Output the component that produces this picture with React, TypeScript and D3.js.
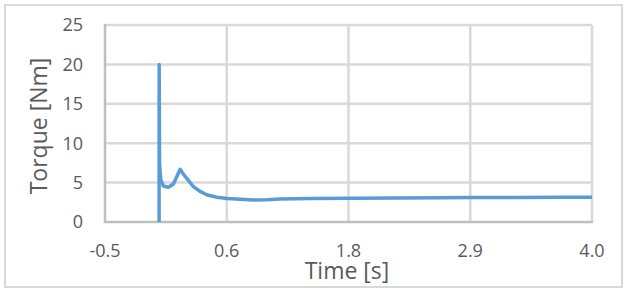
import React from 'react'
import * as d3 from 'd3'

// torque trace
const timeS = [
  0, 0.0005, 0.004, 0.015, 0.04, 0.086, 0.132, 0.163, 0.194, 0.225, 0.256, 0.317,
  0.379, 0.44, 0.533, 0.631, 0.749, 0.872, 0.995, 1.118, 1.4, 1.8, 2.2, 2.6, 2.9, 3.3, 3.7, 4.0,
]
const torqueNm = [
  0, 20, 7.45, 5.33, 4.57, 4.4, 4.82, 5.75, 6.69, 6.05, 5.54, 4.5,
  3.88, 3.45, 3.14, 2.97, 2.88, 2.8, 2.83, 2.92, 2.98, 3.02, 3.05, 3.08, 3.1, 3.12, 3.14, 3.15,
]

const xTicks = [-0.5, 0.625, 1.75, 2.875, 4.0]
const xTickLabels = ['-0.5', '0.6', '1.8', '2.9', '4.0']
const yTicks = [0, 5, 10, 15, 20, 25]

const W = 632
const H = 295
const FONT = '"Open Sans", "Noto Sans", sans-serif'
const TXT = '#595959'
const GRID = '#d9d9d9'
const AXIS = '#bfbfbf'
const LINE = '#5b9bd5'

export default function App() {
  const x = d3.scaleLinear().domain([-0.5, 4.0]).range([105, 592])
  const y = d3.scaleLinear().domain([0, 25]).range([222, 25])

  const pts = timeS.map((t, i) => [t, torqueNm[i]] as [number, number])
  const line = d3.line<[number, number]>()
    .x(d => x(d[0]))
    .y(d => y(d[1]))
    .curve(d3.curveLinear)

  return (
    <svg width={W} height={H} style={{ position: 'absolute', left: 0, top: 0, background: '#fff' }}>
      {/* chart border */}
      <rect x={5} y={5} width={617} height={282} fill="#fff" stroke={GRID} strokeWidth={2} />

      {/* horizontal gridlines */}
      {yTicks.filter(v => v > 0).map(v => (
        <line key={'gy' + v} x1={x(-0.5)} x2={x(4.0)} y1={y(v)} y2={y(v)} stroke={GRID} strokeWidth={2.5} />
      ))}
      {/* vertical gridlines */}
      {xTicks.slice(1).map(v => (
        <line key={'gx' + v} x1={x(v)} x2={x(v)} y1={y(25)} y2={y(0)} stroke={GRID} strokeWidth={2.5} />
      ))}

      {/* axes */}
      <line x1={x(-0.5)} x2={x(-0.5)} y1={y(25) - 1} y2={y(0) + 1} stroke={AXIS} strokeWidth={2.5} />
      <line x1={x(-0.5) - 1} x2={x(4.0) + 1} y1={y(0)} y2={y(0)} stroke={AXIS} strokeWidth={2.5} />

      {/* series */}
      <path d={line(pts) || ''} fill="none" stroke={LINE} strokeWidth={3.5} strokeLinejoin="round" strokeLinecap="butt" />

      {/* y tick labels */}
      {yTicks.map(v => (
        <text key={'ty' + v} x={83} y={y(v)} dy="0.35em" textAnchor="end"
          fontFamily={FONT} fontSize={18} fill={TXT}>{v}</text>
      ))}
      {/* x tick labels */}
      {xTicks.map((v, i) => (
        <text key={'tx' + v} x={x(v)} y={257} textAnchor="middle"
          fontFamily={FONT} fontSize={18} fill={TXT}>{xTickLabels[i]}</text>
      ))}

      {/* axis titles */}
      <text x={347} y={279} textAnchor="middle" fontFamily={FONT} fontSize={23} fill={TXT}>Time [s]</text>
      <text transform="translate(47,126) rotate(-90)" textAnchor="middle" fontFamily={FONT} fontSize={23} fill={TXT}>Torque [Nm]</text>
    </svg>
  )
}
